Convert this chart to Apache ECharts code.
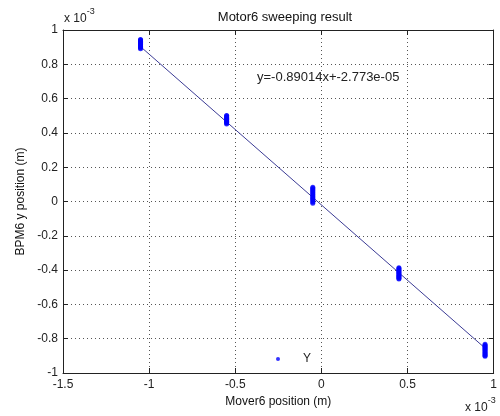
<!DOCTYPE html>
<html>
<head>
<meta charset="utf-8">
<script src="https://cdn.jsdelivr.net/npm/echarts@6/dist/echarts.min.js"></script>
<style>
html,body{margin:0;padding:0;background:#fff;}
#chart{width:500px;height:416px;}
</style>
</head>
<body>
<div id="chart"></div>
<script>
// Mover positions (x 10^-3 m) and measured BPM y positions (x 10^-3 m)
const moverX = [-1.05, -0.55, -0.05, 0.45, 0.95];
const cluster1 = [0.891, 0.897, 0.899, 0.905, 0.908, 0.913, 0.917, 0.921, 0.926, 0.929, 0.934, 0.937, 0.941, 0.945];
const cluster2 = [0.452, 0.457, 0.461, 0.466, 0.470, 0.475, 0.479, 0.484, 0.489, 0.493, 0.498, 0.502];
const cluster3 = [-0.010, -0.003, 0.004, 0.011, 0.017, 0.024, 0.031, 0.038, 0.044, 0.051, 0.057, 0.064, 0.070, 0.077, 0.083];
const cluster4 = [-0.386, -0.391, -0.397, -0.403, -0.408, -0.414, -0.419, -0.425, -0.431, -0.436, -0.442, -0.447, -0.452];
const cluster5 = [-0.832, -0.838, -0.844, -0.850, -0.856, -0.862, -0.868, -0.874, -0.880, -0.886, -0.892, -0.898, -0.903];
// Fit line end points
const fitX = [-1.05, 0.95];
const fitY = [0.903, -0.855];
const xTicks = [-1.5, -1, -0.5, 0, 0.5, 1];
const yTicks = [-1, -0.8, -0.6, -0.4, -0.2, 0, 0.2, 0.4, 0.6, 0.8, 1];
const fitText = 'y=-0.89014x+-2.773e-05';

const clusters = [cluster1, cluster2, cluster3, cluster4, cluster5];
const scatterData = [];
clusters.forEach((c, i) => c.forEach(v => scatterData.push([moverX[i], v])));
const lineData = fitX.map((x, i) => [x, fitY[i]]);

const FONT = 'Liberation Sans, Arial, sans-serif';
const gridLine = {show: true, lineStyle: {color: '#555', width: 1, type: [1, 3]}};
const axLine = {show: true, onZero: false, lineStyle: {color: '#222', width: 1}};
const tick = {show: true, inside: true, length: 5, lineStyle: {color: '#222'}};

const chart = echarts.init(document.getElementById('chart'));
chart.setOption({
  animation: false,
  backgroundColor: '#fff',
  title: {
    text: 'Motor6 sweeping result',
    left: 280, top: 6, textAlign: 'center',
    textStyle: {fontFamily: FONT, fontSize: 13, fontWeight: 'normal', color: '#111'}
  },
  grid: {left: 63, right: 2, top: 30, bottom: 43, containLabel: false},
  legend: {
    data: [{name: 'Y', icon: 'circle'}],
    left: 271, top: 348,
    itemWidth: 4, itemHeight: 4,
    textStyle: {fontFamily: FONT, fontSize: 12, color: '#222', padding: [0, 0, 0, 18]}
  },
  xAxis: [{
    type: 'value', position: 'bottom', min: -1.5, max: 1, interval: 0.5,
    axisLine: axLine, axisTick: tick, splitLine: gridLine,
    axisLabel: {fontFamily: FONT, fontSize: 12, color: '#222', margin: 6,
      formatter: v => String(xTicks.find(t => Math.abs(t - v) < 1e-9) ?? v)},
    name: 'Mover6 position (m)', nameLocation: 'middle', nameGap: 23,
    nameTextStyle: {fontFamily: FONT, fontSize: 12, color: '#111'}
  }, {
    type: 'value', position: 'top', min: -1.5, max: 1, interval: 0.5,
    axisLine: axLine, axisTick: tick, splitLine: {show: false}, axisLabel: {show: false}
  }],
  yAxis: [{
    type: 'value', position: 'left', min: -1, max: 1, interval: 0.2,
    axisLine: axLine, axisTick: tick, splitLine: gridLine,
    axisLabel: {fontFamily: FONT, fontSize: 12, color: '#222', margin: 5,
      formatter: v => String(yTicks.find(t => Math.abs(t - v) < 1e-9) ?? v)},
    name: 'BPM6 y position (m)', nameLocation: 'middle', nameGap: 36,
    nameTextStyle: {fontFamily: FONT, fontSize: 12, color: '#111'}
  }, {
    type: 'value', position: 'right', min: -1, max: 1, interval: 0.2,
    axisLine: axLine, axisTick: tick, splitLine: {show: false}, axisLabel: {show: false}
  }],
  graphic: [
    {type: 'text', left: 257, top: 71, z: 100,
      style: {text: fitText, font: '13px ' + FONT, fill: '#222'}},
    {type: 'text', left: 64, top: 7, z: 100,
      style: {text: '{b|x 10}{s|-3}', font: '12px ' + FONT, fill: '#222',
        rich: {b: {fontSize: 12, fontFamily: FONT, padding: [6, 0, 0, 0]}, s: {fontSize: 9, fontFamily: FONT, verticalAlign: 'top'}}}},
    {type: 'text', left: 465, top: 396, z: 100,
      style: {text: '{b|x 10}{s|-3}', font: '12px ' + FONT, fill: '#222',
        rich: {b: {fontSize: 12, fontFamily: FONT, padding: [6, 0, 0, 0]}, s: {fontSize: 9, fontFamily: FONT, verticalAlign: 'top'}}}}
  ],
  series: [{
    name: 'Y', type: 'scatter', data: scatterData,
    symbol: 'circle', symbolSize: 5,
    itemStyle: {color: '#0000ff'}, z: 3
  }, {
    name: 'fit', type: 'line', data: lineData,
    symbol: 'none', lineStyle: {color: '#3c3c96', width: 1}, z: 2
  }]
});
</script>
</body>
</html>
